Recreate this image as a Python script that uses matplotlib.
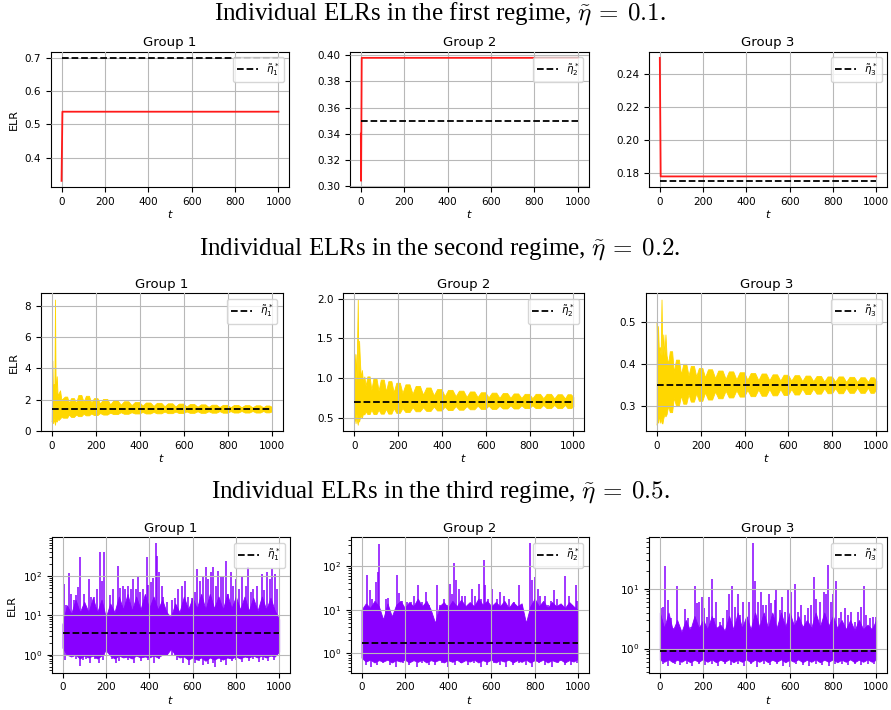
import numpy as np
import matplotlib
matplotlib.use("Agg")
import matplotlib.pyplot as plt
from matplotlib.ticker import NullFormatter

plt.rcParams.update({
    "xtick.labelsize": 7.5, "ytick.labelsize": 7.5,
    "axes.titlesize": 9.5, "axes.labelsize": 8, "legend.fontsize": 7.5,
    "axes.titlepad": 4,
})

# ---------------- data ----------------
groups = ["Group 1", "Group 2", "Group 3"]
regime_titles = [r"Individual ELRs in the first regime, $\tilde{\eta}\:=\:0.1$.",
                 r"Individual ELRs in the second regime, $\tilde{\eta}\:=\:0.2$.",
                 r"Individual ELRs in the third regime, $\tilde{\eta}\:=\:0.5$."]
star_labels = [r"$\tilde{\eta}_1^*$", r"$\tilde{\eta}_2^*$", r"$\tilde{\eta}_3^*$"]
t_span = [0, 1000]

# regime 1 (red)
r1_t = [[0, 4, 1000], [0, 1, 4, 1000], [0, 4, 1000]]
r1_elr = [[0.33, 0.538, 0.538], [0.34, 0.304, 0.398, 0.398], [0.25, 0.1777, 0.1777]]
r1_star = [0.70, 0.35, 0.175]

# regime 2 (gold): envelope of the oscillating ELR
r2_star = [1.40, 0.70, 0.35]
r2_early_t = [[0, 3, 6, 9, 12, 15, 18, 23, 27, 31, 38, 44],
              [0, 3, 6, 10, 13, 16, 19, 22, 26, 30, 35, 40, 46],
              [0, 3, 6, 10, 14, 18, 22, 26, 30, 35, 40, 45]]
r2_early_hi = [[0.7, 4.5, 2.3, 3.0, 2.3, 8.4, 2.4, 3.5, 2.2, 2.4, 2.6, 2.0],
               [1.31, 1.0, 1.3, 0.95, 1.45, 1.99, 1.0, 1.47, 1.2, 1.0, 1.1, 0.95, 1.02],
               [0.50, 0.42, 0.49, 0.43, 0.44, 0.42, 0.553, 0.42, 0.47, 0.42, 0.47, 0.42]]
r2_early_lo = [[0.6, 0.9, 0.5, 0.8, 0.6, 0.4, 0.7, 0.6, 0.8, 0.7, 0.8, 0.9],
               [0.46, 0.5, 0.43, 0.55, 0.45, 0.41, 0.5, 0.45, 0.5, 0.52, 0.5, 0.55, 0.54],
               [0.255, 0.27, 0.26, 0.28, 0.26, 0.27, 0.26, 0.258, 0.27, 0.28, 0.275, 0.28]]
r2_neck_t = [52, 78, 111, 145, 180, 220, 266, 314, 363, 413, 463, 513, 563, 613, 663,
             713, 763, 813, 863, 913, 962, 1000]
r2_neck_hi = [
    [2.1, 1.8, 1.8, 1.85, 1.8, 1.75, 1.7, 1.68, 1.65, 1.62, 1.6, 1.58, 1.57, 1.56, 1.55,
     1.54, 1.53, 1.52, 1.52, 1.51, 1.51, 1.55],
    [0.9, 0.85, 0.84, 0.83, 0.82, 0.81, 0.80, 0.79, 0.78, 0.77, 0.77, 0.76, 0.76, 0.755, 0.75,
     0.75, 0.748, 0.745, 0.745, 0.742, 0.742, 0.76],
    [0.40, 0.38, 0.375, 0.372, 0.37, 0.368, 0.366, 0.364, 0.363, 0.362, 0.361, 0.361, 0.36, 0.36, 0.359,
     0.359, 0.358, 0.358, 0.357, 0.357, 0.357, 0.36]]
r2_neck_lo = [
    [0.85, 1.05, 1.05, 1.1, 1.12, 1.15, 1.17, 1.2, 1.2, 1.22, 1.22, 1.24, 1.24, 1.25, 1.26,
     1.26, 1.27, 1.27, 1.28, 1.28, 1.28, 1.25],
    [0.58, 0.6, 0.6, 0.61, 0.62, 0.62, 0.63, 0.63, 0.64, 0.64, 0.645, 0.645, 0.65, 0.65, 0.65,
     0.655, 0.655, 0.655, 0.66, 0.66, 0.66, 0.64],
    [0.30, 0.32, 0.325, 0.328, 0.33, 0.332, 0.334, 0.336, 0.337, 0.338, 0.339, 0.34, 0.34, 0.34, 0.341,
     0.341, 0.342, 0.342, 0.343, 0.343, 0.343, 0.34]]
r2_peak_hi = [
    [2.2, 2.1, 2.3, 2.25, 2.1, 2.05, 1.95, 1.9, 1.85, 1.82, 1.8, 1.77, 1.75, 1.72, 1.7,
     1.68, 1.67, 1.66, 1.65, 1.64, 1.63],
    [1.02, 1.0, 0.98, 0.96, 0.94, 0.92, 0.9, 0.88, 0.86, 0.85, 0.84, 0.83, 0.82, 0.815, 0.81,
     0.805, 0.8, 0.8, 0.8, 0.795, 0.795],
    [0.43, 0.41, 0.40, 0.395, 0.39, 0.387, 0.384, 0.382, 0.38, 0.378, 0.377, 0.375, 0.374, 0.373, 0.372,
     0.371, 0.37, 0.37, 0.369, 0.368, 0.368]]
r2_peak_lo = [
    [0.85, 0.9, 0.95, 1.0, 1.02, 1.05, 1.08, 1.1, 1.12, 1.12, 1.13, 1.14, 1.15, 1.16, 1.16,
     1.17, 1.17, 1.18, 1.18, 1.18, 1.19],
    [0.545, 0.545, 0.55, 0.55, 0.56, 0.57, 0.58, 0.585, 0.59, 0.595, 0.6, 0.605, 0.61, 0.61, 0.615,
     0.615, 0.62, 0.62, 0.62, 0.62, 0.62],
    [0.285, 0.30, 0.305, 0.31, 0.312, 0.315, 0.318, 0.32, 0.322, 0.323, 0.324, 0.325, 0.326, 0.327, 0.328,
     0.329, 0.33, 0.33, 0.331, 0.331, 0.331]]

# regime 3 (violet): dense band (ragged top every 20 steps) + individual spikes and dips
r3_star = [3.6, 1.77, 0.893]
r3_band_t = [0, 20, 40, 60, 80, 100, 120, 140, 160, 180, 200, 220, 240, 260, 280, 300, 320, 340,
             360, 380, 400, 420, 440, 460, 480, 500, 520, 540, 560, 580, 600, 620, 640, 660, 680,
             700, 720, 740, 760, 780, 800, 820, 840, 860, 880, 900, 920, 940, 960, 980, 1000]
r3_band_hi = [
    [6, 18, 11, 25, 12, 22, 12, 28, 12, 25, 9, 20, 12, 30, 14, 35, 13, 30, 14, 35, 15, 30, 14, 25, 12,
     9, 20, 12, 30, 14, 28, 15, 35, 14, 35, 15, 30, 14, 35, 15, 30, 14, 30, 13, 28, 13, 30, 14, 28, 13, 8],
    [10, 14, 11, 16, 12, 6, 14, 7, 13, 16, 11, 15, 12, 18, 12, 16, 10, 5, 12, 15, 11, 16, 12, 17, 12,
     15, 12, 18, 13, 16, 12, 15, 12, 16, 11, 15, 12, 14, 5, 12, 18, 12, 16, 11, 15, 12, 14, 11, 15, 12, 10],
    [4, 2.2, 4, 2.0, 3, 1.9, 3, 2.0, 3.5, 2.2, 3, 2.1, 3.5, 2.2, 2.5, 2.0, 3.5, 2.1, 4, 2.2, 3.5, 2.1,
     4, 2.3, 4, 2.2, 4, 2.2, 4, 2.3, 4, 2.4, 3.5, 2.3, 3, 2.2, 4, 2.3, 4, 2.4, 3.5, 2.2, 3, 2.1, 3,
     2.0, 3, 2.1, 2.5, 2.1, 3]]
r3_band_lo = [
    [1.5, 1.0, 0.9, 1.0, 0.8, 0.95, 0.85, 0.95, 0.8, 0.95, 1.3, 0.95, 0.8, 0.95, 0.85, 0.9, 0.8, 0.95,
     0.85, 0.9, 0.85, 0.95, 0.85, 1.0, 1.0, 1.4, 1.0, 0.85, 0.9, 0.75, 0.85, 0.75, 0.85, 0.7, 0.85,
     0.75, 0.85, 0.75, 0.85, 0.8, 0.9, 0.8, 0.9, 0.85, 0.95, 0.85, 0.95, 0.85, 0.95, 0.9, 1.2],
    [0.8, 0.65, 0.72, 0.62, 0.7, 0.65, 0.72, 0.62, 0.7, 0.65, 0.72, 0.62, 0.7, 0.64, 0.72, 0.62, 0.7,
     0.65, 0.72, 0.62, 0.7, 0.64, 0.72, 0.62, 0.7, 0.65, 0.72, 0.62, 0.7, 0.64, 0.72, 0.62, 0.7, 0.65,
     0.72, 0.62, 0.7, 0.64, 0.72, 0.62, 0.7, 0.65, 0.72, 0.62, 0.7, 0.64, 0.72, 0.62, 0.7, 0.65, 0.75],
    [0.65, 0.6, 0.66, 0.59, 0.65, 0.6, 0.66, 0.59, 0.65, 0.6, 0.67, 0.6, 0.66, 0.59, 0.65, 0.6, 0.66,
     0.59, 0.65, 0.6, 0.66, 0.59, 0.65, 0.6, 0.66, 0.59, 0.65, 0.6, 0.66, 0.59, 0.65, 0.6, 0.66, 0.59,
     0.65, 0.6, 0.66, 0.59, 0.65, 0.6, 0.66, 0.59, 0.65, 0.6, 0.66, 0.59, 0.65, 0.6, 0.66, 0.6, 0.65]]
r3_spike_t = [
    [6, 17, 31, 40, 51, 63, 71, 81, 97, 104, 120, 131, 143, 158, 174, 181, 192, 220, 235, 258, 266,
     278, 289, 301, 315, 327, 339, 349, 358, 373, 389, 396, 407, 419, 430, 438, 447, 458, 465, 481,
     504, 519, 535, 550, 565, 581, 596, 611, 622, 634, 647, 660, 673, 684, 696, 708, 719, 730, 742,
     754, 765, 776, 788, 803, 816, 829, 845, 856, 868, 880, 896, 919, 931, 942, 957, 969, 982, 991],
    [8, 26, 37, 49, 65, 75, 80, 111, 122, 165, 175, 188, 208, 229, 242, 262, 280, 300, 311, 349,
     365, 383, 395, 408, 418, 429, 437, 449, 465, 480, 495, 511, 526, 542, 552, 565, 572, 583, 603,
     626, 642, 657, 680, 703, 726, 742, 777, 788, 803, 814, 826, 849, 860, 875, 891, 903, 926, 942,
     957, 972, 989, 998],
    [5, 14, 26, 40, 51, 63, 80, 94, 117, 132, 144, 163, 174, 181, 194, 204, 217, 229, 240, 250, 260,
     278, 293, 309, 321, 332, 347, 361, 370, 386, 401, 412, 429, 441, 455, 467, 478, 493, 504, 516,
     531, 539, 555, 567, 578, 593, 608, 624, 639, 654, 670, 685, 700, 713, 723, 739, 757, 770, 779,
     793, 800, 816, 828, 839, 854, 869, 885, 900, 916, 931, 943, 954, 972, 985, 997]]
r3_spike_v = [
    [63, 18, 117, 35, 25, 32, 52, 295, 35, 18, 84, 30, 29, 47, 405, 76, 405, 32, 47, 180, 50,
     57, 47, 57, 47, 84, 47, 100, 40, 47, 295, 60, 70, 87, 668, 320, 123, 57, 30, 22,
     25, 27, 47, 57, 76, 30, 27, 38, 150, 76, 100, 165, 84, 123, 165, 57, 135, 92, 92,
     240, 35, 123, 57, 84, 47, 92, 57, 165, 40, 47, 57, 112, 43, 123, 84, 150, 112, 47],
    [10.6, 64, 28, 18, 43, 72, 325, 18, 19, 62, 24, 16, 15, 15, 21, 36, 15, 25, 13, 36,
     13, 18, 13, 39, 23, 117, 47, 30, 21, 21, 13, 30, 21, 39, 18, 137, 36, 18, 30,
     18, 25, 21, 18, 15, 36, 13, 330, 47, 55, 30, 21, 21, 13, 16, 28, 18, 13, 58,
     21, 13, 37, 16],
    [4.7, 5, 24, 6.4, 3.2, 2.2, 10.9, 1.9, 4.6, 3.2, 2.3, 10.9, 5.7, 6, 7.3, 4.7, 3.4, 7.3, 14.3, 3.2, 6,
     2.8, 3.2, 4.4, 8.3, 11, 5, 8.3, 3.6, 6, 3.4, 6, 57, 13.7, 6, 8.8, 5.3, 5.3, 8.3, 5.7,
     6.4, 10, 4.4, 7.3, 4.1, 9.4, 8.8, 12, 4.1, 5.3, 3.6, 4.7, 5.3, 15.5, 6.8, 6, 8.8, 8.3, 25,
     6, 8.3, 13.7, 3.2, 4.1, 4.7, 3.6, 4.1, 2.8, 4.1, 5, 10.9, 3.6, 3.2, 3.4, 3.4]]
r3_dip_t = [
    [10, 35, 60, 81, 95, 110, 128, 150, 170, 185, 230, 245, 262, 300, 330, 360, 395, 420, 445, 470,
     530, 555, 585, 610, 630, 650, 672, 695, 705, 730, 755, 780, 800, 830, 860, 880, 905, 925, 950, 975],
    [20, 45, 70, 100, 130, 160, 190, 220, 255, 280, 310, 340, 370, 400, 430, 460, 490, 520, 550, 580,
     610, 640, 670, 700, 730, 760, 790, 820, 850, 880, 910, 940, 970, 995],
    [15, 40, 70, 95, 125, 150, 180, 210, 240, 270, 300, 330, 360, 390, 420, 450, 480, 510, 540, 570,
     600, 630, 660, 690, 720, 750, 780, 810, 840, 870, 900, 930, 960, 990]]
r3_dip_v = [
    [0.75, 0.9, 0.8, 0.52, 0.75, 0.8, 0.6, 0.8, 0.62, 0.75, 0.8, 0.6, 0.7, 0.75, 0.6, 0.7, 0.75, 0.62, 0.8, 0.9,
     0.75, 0.62, 0.55, 0.6, 0.7, 0.55, 0.58, 0.6, 0.5, 0.65, 0.55, 0.7, 0.75, 0.65, 0.7, 0.8, 0.65, 0.75, 0.7, 0.75],
    [0.55, 0.5, 0.55, 0.6, 0.55, 0.5, 0.6, 0.55, 0.5, 0.6, 0.55, 0.55, 0.6, 0.5, 0.55, 0.6, 0.55, 0.6, 0.5, 0.55,
     0.6, 0.55, 0.5, 0.55, 0.6, 0.55, 0.5, 0.6, 0.55, 0.5, 0.6, 0.55, 0.55, 0.6],
    [0.55, 0.52, 0.55, 0.53, 0.56, 0.52, 0.55, 0.53, 0.55, 0.52, 0.56, 0.53, 0.55, 0.52, 0.55, 0.5, 0.55, 0.53, 0.55, 0.52,
     0.5, 0.55, 0.53, 0.52, 0.55, 0.53, 0.52, 0.55, 0.56, 0.53, 0.55, 0.53, 0.55, 0.56]]

RED, GOLD, VIOLET = "#ff1a1a", "#ffd700", "#8800ff"

# ---------------- layout ----------------
W, H = 891, 710
fig = plt.figure(figsize=(W / 100, H / 100), dpi=100)

def ax_at(l, t, r, b):
    return fig.add_axes([l / W, 1 - b / H, (r - l) / W, (b - t) / H])

rows_px = [(51.7, 187.0), (293.3, 431.0), (537.3, 672.7)]
cols_px = [[(50.7, 289.3), (350.0, 588.7), (649.0, 887.0)],
           [(40.7, 282.7), (343.3, 584.3), (645.7, 887.3)],
           [(51.7, 290.0), (350.7, 588.7), (649.0, 887.0)]]
title_base = [19.5, 254.5, 498.0]

def finish(ax, j, star):
    ax.plot(t_span, [star, star], ls="--", color="black", lw=1.3, zorder=3, label=star_labels[j])
    ax.set_title(groups[j])
    ax.set_xlabel(r"$t$", labelpad=1)
    if j == 0:
        ax.set_ylabel("ELR")
    ax.set_axisbelow(False)
    ax.grid(True, color="#b8b8b8", lw=0.8)
    ax.legend(loc="upper right")

def lobe_envelope(j):
    """polygon of the band: early spikes, then one rounded lobe between consecutive necks"""
    tt, hi, lo = list(r2_early_t[j]), list(r2_early_hi[j]), list(r2_early_lo[j])
    for k in range(len(r2_neck_t) - 1):
        a, b = r2_neck_t[k], r2_neck_t[k + 1]
        tt += [a, a + 0.3 * (b - a), a + 0.7 * (b - a)]
        hi += [r2_neck_hi[j][k], r2_peak_hi[j][k], r2_peak_hi[j][k]]
        lo += [r2_neck_lo[j][k], r2_peak_lo[j][k], r2_peak_lo[j][k]]
    tt.append(r2_neck_t[-1]); hi.append(r2_neck_hi[j][-1]); lo.append(r2_neck_lo[j][-1])
    return tt, hi, lo

for i in range(3):
    fig.text(440 / W, 1 - title_base[i] / H, regime_titles[i], ha="center", va="baseline",
             family="Liberation Serif", fontsize=18, math_fontfamily="cm")
    for j in range(3):
        l, r = cols_px[i][j]
        t, b = rows_px[i]
        ax = ax_at(l, t, r, b)
        if i == 0:
            ax.plot(r1_t[j], r1_elr[j], color=RED, lw=1.3, zorder=2.7)
            finish(ax, j, r1_star[j])
        elif i == 1:
            tt, hi, lo = lobe_envelope(j)
            ax.fill_between(tt, lo, hi, color=GOLD, lw=0.6, edgecolor=GOLD)
            finish(ax, j, r2_star[j])
        else:
            ax.set_yscale("log")
            ax.fill_between(r3_band_t, r3_band_lo[j], r3_band_hi[j], color=VIOLET, lw=0.6, edgecolor=VIOLET)
            ax.vlines(r3_spike_t[j], 1.0, r3_spike_v[j], color=VIOLET, lw=1.1)
            ax.vlines(r3_dip_t[j], r3_dip_v[j], 1.0, color=VIOLET, lw=1.1)
            finish(ax, j, r3_star[j])
            vmin = min(min(r3_dip_v[j]), min(r3_band_lo[j]))
            vmax = max(max(r3_spike_v[j]), max(r3_band_hi[j]))
            span = np.log10(vmax / vmin)
            ax.set_ylim(10 ** (np.log10(vmin) - 0.05 * span), 10 ** (np.log10(vmax) + 0.05 * span))
            ax.yaxis.set_minor_formatter(NullFormatter())

fig.savefig("out.png", dpi=100)
